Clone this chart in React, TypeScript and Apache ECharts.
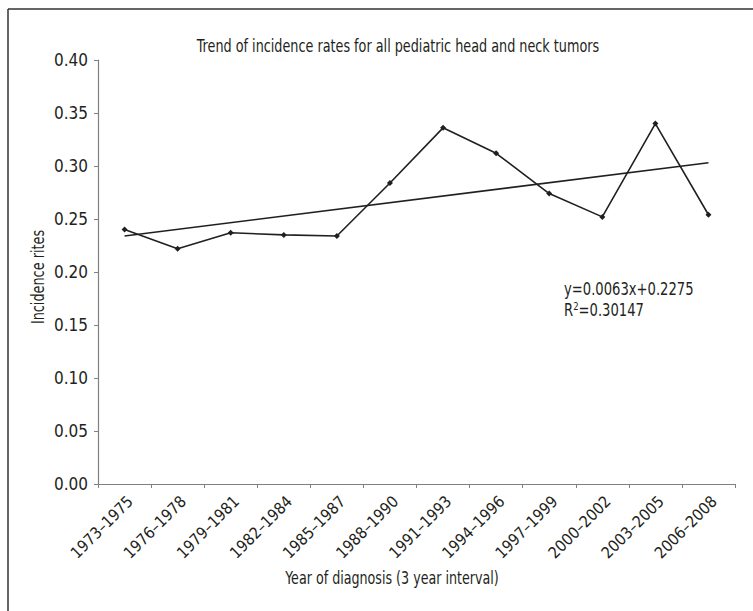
import React, { useEffect, useRef } from "react";
import * as echarts from "echarts";

const categories = [
  "1973–1975", "1976–1978", "1979–1981", "1982–1984", "1985–1987", "1988–1990",
  "1991–1993", "1994–1996", "1997–1999", "2000–2002", "2003–2005", "2006–2008",
];
const incidenceRates = [0.240, 0.222, 0.237, 0.235, 0.234, 0.284, 0.336, 0.312, 0.274, 0.252, 0.340, 0.254];
const trendStart = 0.234;
const trendEnd = 0.303;
const yTicks = { min: 0, max: 0.4, interval: 0.05 };
const titleText = "Trend of incidence rates for all pediatric head and neck tumors";
const xAxisName = "Year of diagnosis (3 year interval)";
const yAxisName = "Incidence rites";
const equationText = "y=0.0063x+0.2275";
const r2Text = "0.30147";

const FONT = "'Liberation Sans Narrow', 'DejaVu Sans Condensed', 'Roboto Condensed', sans-serif";
const INK = "#231f20";
const AXIS = "#808080";

export default function App() {
  const ref = useRef<HTMLDivElement>(null);
  useEffect(() => {
    if (!ref.current) return;
    const chart = echarts.init(ref.current, undefined, { renderer: "svg" });
    chart.setOption({
      animation: false,
      backgroundColor: "#ffffff",
      textStyle: { fontFamily: FONT, color: INK },
      grid: { left: 98, right: 18, top: 60, bottom: 127, containLabel: false },
      xAxis: {
        type: "category",
        data: categories,
        boundaryGap: true,
        axisLine: { lineStyle: { color: AXIS, width: 1.2 } },
        axisTick: { show: true, length: 4, alignWithLabel: false, lineStyle: { color: AXIS } },
        axisLabel: {
          rotate: 45,
          interval: 0,
          margin: 9,
          fontFamily: FONT,
          fontSize: 16,
          color: INK,
          verticalAlign: "top",
        },
        splitLine: { show: false },
      },
      yAxis: {
        type: "value",
        min: yTicks.min,
        max: yTicks.max,
        interval: yTicks.interval,
        axisLine: { show: true, lineStyle: { color: AXIS, width: 1.2 } },
        axisTick: { show: true, length: 4, lineStyle: { color: AXIS } },
        axisLabel: {
          margin: 10,
          fontFamily: FONT,
          fontSize: 17,
          color: INK,
          formatter: (v: number) => v.toFixed(2),
        },
        splitLine: { show: false },
      },
      series: [
        {
          type: "line",
          data: incidenceRates,
          symbol: "diamond",
          symbolSize: 6,
          showSymbol: true,
          lineStyle: { color: INK, width: 1.6 },
          itemStyle: { color: INK },
          z: 3,
        },
        {
          type: "line",
          data: [[0, trendStart], [categories.length - 1, trendEnd]],
          symbol: "none",
          lineStyle: { color: INK, width: 1.6 },
          z: 2,
        },
      ],
      graphic: [
        { type: "line", shape: { x1: 8, y1: 9, x2: 753, y2: 9 }, style: { stroke: "#333", lineWidth: 1.5 } },
        { type: "line", shape: { x1: 8, y1: 9, x2: 8, y2: 611 }, style: { stroke: "#333", lineWidth: 1.5 } },
        {
          type: "text",
          x: 398,
          y: 46,
          scaleX: 0.79,
          style: { text: titleText, font: `18px ${FONT}`, fill: INK, align: "center", verticalAlign: "middle" },
        },
        {
          type: "text",
          x: 392,
          y: 579,
          scaleX: 0.83,
          style: { text: xAxisName, font: `17px ${FONT}`, fill: INK, align: "center", verticalAlign: "middle" },
        },
        {
          type: "text",
          x: 38,
          y: 277,
          rotation: Math.PI / 2,
          scaleX: 0.84,
          style: { text: yAxisName, font: `17px ${FONT}`, fill: INK, align: "center", verticalAlign: "middle" },
        },
        {
          type: "text",
          x: 564,
          y: 289,
          scaleX: 0.86,
          style: { text: equationText, font: `17px ${FONT}`, fill: INK, align: "left", verticalAlign: "middle" },
        },
        {
          type: "text",
          x: 564,
          y: 310,
          scaleX: 0.86,
          style: {
            text: "R{sup|2}=" + r2Text,
            font: `17px ${FONT}`,
            fill: INK,
            align: "left",
            verticalAlign: "middle",
            rich: {
              sup: { fontSize: 11, fontFamily: FONT, fill: INK, verticalAlign: "top", padding: [0, 0, 8, 0] },
            },
          },
        },
      ],
    });
    return () => chart.dispose();
  }, []);
  return <div ref={ref} style={{ position: "absolute", left: 0, top: 0, width: 753, height: 611 }} />;
}
